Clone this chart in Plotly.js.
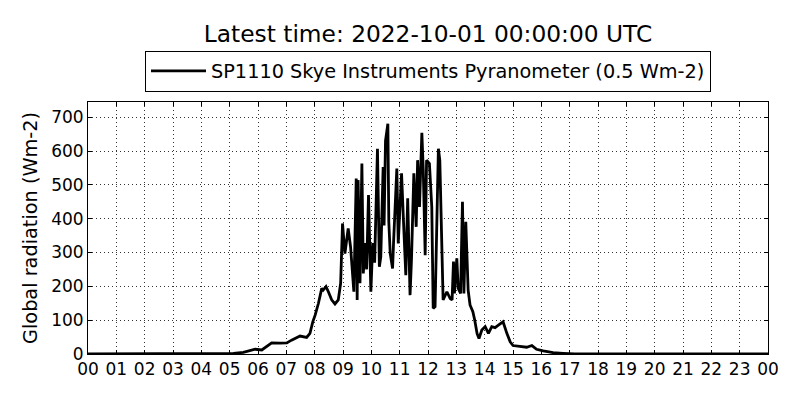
<!DOCTYPE html>
<html>
<head>
<meta charset="utf-8">
<script src="https://cdn.plot.ly/plotly-3.0.1.min.js"></script>
<style>html,body{margin:0;padding:0;background:#fff;}#chart{width:800px;height:400px;}</style>
</head>
<body>
<div id="chart"></div>
<script>
const chartTitle = "Latest time: 2022-10-01 00:00:00 UTC";
const seriesName = "SP1110 Skye Instruments Pyranometer (0.5 Wm-2)";
const yTitle = "Global radiation (Wm-2)";
const dayStart = "2022-09-30";
const dayEnd = "2022-10-01";

const times = ["00:00","04:30","05:08","05:29","05:43","05:54","06:08","06:18","06:29","06:47","07:01","07:11","07:22","07:29","07:43","07:50","07:56","08:01","08:08","08:15","08:18","08:24","08:29","08:36","08:43","08:50","08:55","08:59","09:04","09:11","09:16","09:23","09:28","09:30","09:32","09:36","09:40","09:43","09:47","09:50","09:54","09:59","10:03","10:07","10:13","10:17","10:20","10:25","10:27","10:30","10:35","10:37","10:40","10:45","10:47","10:54","10:57","11:04","11:08","11:13","11:17","11:22","11:25","11:30","11:35","11:38","11:42","11:47","11:50","11:54","11:57","12:03","12:08","12:11","12:15","12:22","12:25","12:29","12:32","12:40","12:47","12:51","12:54","12:56","13:01","13:04","13:09","13:13","13:16","13:20","13:25","13:29","13:35","13:39","13:44","13:48","13:54","14:01","14:08","14:15","14:22","14:32","14:39","14:47","14:54","15:00","15:15","15:29","15:40","15:50","16:04","16:25","16:46","17:11","24:00"];
const radiation = [0,0,2,5,9,14,12,22,33,32,33,41,48,53,49,61,95,115,150,194,189,199,184,160,148,160,209,386,297,371,317,184,519,160,514,209,563,238,328,250,470,184,328,270,607,258,287,553,380,630,681,390,297,253,327,548,327,534,396,233,460,174,278,534,376,573,435,654,543,292,573,563,435,135,140,607,573,376,160,184,164,160,273,179,283,194,179,450,179,391,189,145,125,100,60,46,71,81,61,81,78,88,95,61,36,25,22,20,25,14,9,4,2,0,0];

const base = Date.UTC(2022, 8, 30);
const xs = times.map(t => { const p = t.split(":"); return base + (parseInt(p[0]) * 60 + parseInt(p[1])) * 60000; });

const font = "DejaVu Sans, sans-serif";
const trace = {
  x: xs, y: radiation, type: "scatter", mode: "lines", name: seriesName,
  line: {color: "#000", width: 2.8}
};
const layout = {
  width: 800, height: 400,
  margin: {l: 88, r: 32, t: 102, b: 46, pad: 0},
  paper_bgcolor: "#fff", plot_bgcolor: "#fff",
  font: {family: font, color: "#000", size: 17},
  title: {text: chartTitle, font: {family: font, size: 23.3, color: "#000"}, x: 0.535, xanchor: "center", y: 0.915, yanchor: "middle"},
  showlegend: true,
  legend: {orientation: "h", x: 0.5, xanchor: "center", y: 1.04, yanchor: "bottom",
           bordercolor: "#000", borderwidth: 1, bgcolor: "#fff", itemwidth: 55,
           font: {family: font, size: 19.3, color: "#000"}},
  xaxis: {
    type: "date", range: [dayStart + " 00:00", dayEnd + " 00:00"],
    dtick: 3600000, tick0: dayStart + " 00:00", tickformat: "%H",
    showline: true, linecolor: "#000", linewidth: 1, mirror: "ticks",
    ticks: "inside", ticklen: 4, tickcolor: "#000",
    showgrid: true, gridcolor: "#333", gridwidth: 1, griddash: "1px,3px",
    zeroline: false, tickfont: {family: font, size: 17, color: "#000"}, fixedrange: true
  },
  yaxis: {
    range: [0, 745], dtick: 100, tick0: 0,
    showline: true, linecolor: "#000", linewidth: 1, mirror: "ticks",
    ticks: "inside", ticklen: 4, tickcolor: "#000",
    showgrid: true, gridcolor: "#333", gridwidth: 1, griddash: "1px,3px",
    zeroline: false, tickfont: {family: font, size: 17, color: "#000"},
    title: {text: yTitle, font: {family: font, size: 19.3, color: "#000"}, standoff: 8},
    automargin: false
  }
};
Plotly.newPlot("chart", [trace], layout, {displayModeBar: false, staticPlot: true});
</script>
</body>
</html>
